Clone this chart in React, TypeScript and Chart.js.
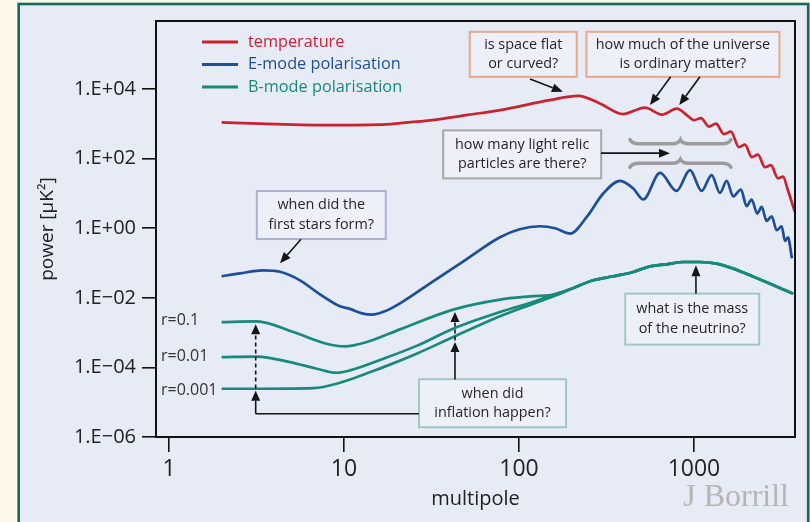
import { useEffect, useRef } from 'react';
import { Chart, registerables } from 'chart.js';

Chart.register(...registerables);

// ---------------- data ----------------
const tempEll = [2, 3.3, 8.65, 16, 21, 32, 50, 78, 150, 218, 290, 393, 525, 656, 800, 924, 1000, 1097, 1218, 1336, 1484, 1627, 1807, 1956, 2144, 2321, 2545, 2754, 3020, 3228, 3444, 3777];
const tempPow = [1100, 1016, 920, 950, 1051, 1280, 1786, 2490, 4820, 6400, 3875, 1910, 2937, 1847, 2750, 1671, 1282, 1463, 834, 1016, 507, 598, 214, 253, 110, 130, 57, 65, 27.5, 30.3, 12.4, 2.9];

const eEll = [2, 2.55, 3.44, 4.31, 5.6, 7.29, 9.49, 10.8, 12.7, 14.45, 17.1, 20.9, 32.3, 49.1, 77.9, 101, 132, 161, 196, 244, 303, 378, 450, 513, 640, 796, 949, 1106, 1262, 1409, 1538, 1678, 1856, 2000, 2136, 2300, 2438, 2602, 2779, 2971, 3172, 3313, 3444, 3630];
const ePow = [0.0416, 0.0507, 0.0618, 0.056, 0.0319, 0.0126, 0.00569, 0.00482, 0.00358, 0.00329, 0.00409, 0.00695, 0.0299, 0.12, 0.551, 0.935, 1.14, 1.0, 0.703, 2.11, 9.97, 23, 13.9, 6.7, 39, 11.8, 46.7, 11.8, 33.5, 10.4, 23, 8.3, 13, 4.3, 6.7, 2.65, 4.1, 1.62, 2.21, 0.875, 1.14, 0.43, 0.55, 0.137];

const bEll_r01 = [2, 3.18, 5.13, 7.96, 10.1, 13.5, 20.9, 42.1, 77.9, 116, 163];
const bPow_r01 = [0.00201, 0.00211, 0.00104, 0.00048, 0.000402, 0.000535, 0.00124, 0.00457, 0.00887, 0.011, 0.0126];

const bEll_r001 = [2, 3.18, 4.91, 6.98, 9.08, 10.8, 16.8, 26, 42.1, 77.9, 120, 164];
const bPow_r001 = [0.000198, 0.000205, 0.000142, 0.0000918, 0.0000703, 0.000082, 0.000178, 0.000416, 0.0013, 0.0039, 0.00757, 0.0132];

const bEll_r0001 = [2, 3.31, 6.68, 9.08, 16.8, 26, 42.1, 77.9, 121, 172];
const bPow_r0001 = [0.0000244, 0.0000244, 0.0000254, 0.000034, 0.000102, 0.000248, 0.000745, 0.00294, 0.0068, 0.0132];

// lensing B-mode (shared by all r beyond the recombination bump)
const lensEll = [196, 266, 346, 450, 561, 698, 869, 1082, 1348, 1678, 2089, 3690];
const lensPow = [0.0176, 0.0319, 0.0416, 0.0552, 0.0805, 0.092, 0.107, 0.107, 0.0964, 0.0692, 0.0444, 0.0132];

const seriesNames = ['temperature', 'E-mode polarisation', 'B-mode polarisation'];
const rLabels = ['r=0.1', 'r=0.01', 'r=0.001'];

const xTickValues = [1, 10, 100, 1000];
const xTickLabels = ['1', '10', '100', '1000'];
const yTickValues = [1e-6, 1e-4, 1e-2, 1, 1e2, 1e4];
const yTickLabels = ['1.E\u221206', '1.E\u221204', '1.E\u221202', '1.E+00', '1.E+02', '1.E+04'];

const X_MIN = 0.843;
const X_MAX = 3780;
const Y_MIN = 1e-6;
const Y_MAX = 9.06e5;

// ---------------- styles ----------------
const RED = '#c8232e';
const BLUE = '#1c4f96';
const GREEN = '#188a79';
const CREAM = '#fdf8ea';
const PANEL = '#e7ebf6';
const TEAL = '#12695f';
const BOXFILL = '#edf0f9';
const SALMON = '#e9a78c';
const GREYB = '#a8a8a8';
const LILAC = '#abb1d5';
const TEALGREY = '#a2c6c8';
const FONT = "'Open Sans', 'Liberation Sans', sans-serif";

// annotation anchors in data coordinates (multipole, power)
const boxes = [
  { lines: ['is space flat', 'or curved?'], at: [105.8, 1.0e5], w: 107, h: 45, stroke: SALMON },
  { lines: ['how much of the universe', 'is ordinary matter?'], at: [865, 1.0e5], w: 193, h: 45, stroke: SALMON },
  { lines: ['how many light relic', 'particles are there?'], at: [104.3, 133], w: 158, h: 48, stroke: GREYB },
  { lines: ['when did the', 'first stars form?'], at: [7.42, 2.4], w: 129, h: 48, stroke: LILAC },
  { lines: ['when did', 'inflation happen?'], at: [70.6, 9.33e-6], w: 147, h: 48, stroke: TEALGREY },
  { lines: ['what is the mass', 'of the neutrino?'], at: [978, 0.00244], w: 134, h: 51, stroke: TEALGREY },
];
const arrows = [
  { from: [115.6, 19400], to: [178.4, 8360] },
  { from: [736, 22600], to: [560.5, 3464] },
  { from: [1082, 22600], to: [824, 3464] },
  { from: [294.2, 144], to: [729.3, 144] },
  { from: [5.68, 0.483], to: [4.31, 0.0984] },
  { from: [1026.6, 0.0132], to: [1026.6, 0.0862] },
];
const braces = [
  { from: 431, to: 1627, mid: 837, at: 270, ends: -1 },
  { from: 431, to: 1627, mid: 837, at: 74.2, ends: 1 },
];

const toXY = (ell: number[], pow: number[]) => ell.map((x, i) => ({ x, y: pow[i] }));

function drawArrow(ctx: CanvasRenderingContext2D, x1: number, y1: number, x2: number, y2: number, dashed = false, head = 11, half = 4.5) {
  const ang = Math.atan2(y2 - y1, x2 - x1);
  const bx = x2 - Math.cos(ang) * head;
  const by = y2 - Math.sin(ang) * head;
  ctx.save();
  ctx.strokeStyle = '#151515';
  ctx.fillStyle = '#151515';
  ctx.lineWidth = 1.6;
  if (dashed) ctx.setLineDash([4, 3]);
  ctx.beginPath();
  ctx.moveTo(x1, y1);
  ctx.lineTo(bx, by);
  ctx.stroke();
  ctx.setLineDash([]);
  ctx.beginPath();
  ctx.moveTo(x2, y2);
  ctx.lineTo(bx + Math.sin(ang) * half, by - Math.cos(ang) * half);
  ctx.lineTo(bx - Math.sin(ang) * half, by + Math.cos(ang) * half);
  ctx.closePath();
  ctx.fill();
  ctx.restore();
}

const backgroundPlugin = {
  id: 'panelBackground',
  beforeDraw(chart: any) {
    const { ctx, width, height } = chart;
    ctx.save();
    ctx.fillStyle = CREAM;
    ctx.fillRect(0, 0, width, height);
    ctx.fillStyle = PANEL;
    ctx.fillRect(18, 3, width, height);
    ctx.strokeStyle = TEAL;
    ctx.lineWidth = 2.6;
    ctx.strokeRect(18.7, 4, 789.5, height + 20);
    ctx.restore();
  },
};

const annotationPlugin = {
  id: 'annotations',
  afterDraw(chart: any) {
    const { ctx, chartArea: ca } = chart;
    const xs = chart.scales.x;
    const ys = chart.scales.y;
    const X = (v: number) => xs.getPixelForValue(v);
    const Y = (v: number) => ys.getPixelForValue(v);
    ctx.save();

    // plot frame
    ctx.strokeStyle = '#111';
    ctx.lineWidth = 2;
    ctx.strokeRect(ca.left, ca.top, ca.right - ca.left, ca.bottom - ca.top);

    // legend
    const legColors = [RED, BLUE, GREEN];
    ctx.font = `16.3px ${FONT}`;
    ctx.textBaseline = 'middle';
    ctx.textAlign = 'left';
    seriesNames.forEach((name, i) => {
      const ly = ca.top + 21 + i * 22.5;
      ctx.strokeStyle = legColors[i];
      ctx.lineWidth = 3;
      ctx.beginPath();
      ctx.moveTo(ca.left + 46, ly);
      ctx.lineTo(ca.left + 82, ly);
      ctx.stroke();
      ctx.fillStyle = legColors[i];
      ctx.fillText(name, ca.left + 92, ly);
    });

    // r labels
    ctx.fillStyle = '#333';
    ctx.font = `16px ${FONT}`;
    const rFirst = [bPow_r01[0], bPow_r001[0], bPow_r0001[0]];
    const rOff = [-2, -1, 2];
    rLabels.forEach((t, i) => ctx.fillText(t, ca.left + 5, Y(rFirst[i]) + rOff[i]));

    // braces
    ctx.strokeStyle = '#9c9c9c';
    ctx.lineWidth = 3.5;
    ctx.lineCap = 'round';
    braces.forEach((b) => {
      const x0 = X(b.from), x1 = X(b.to), xm = X(b.mid), yb = Y(b.at);
      const e = b.ends * 4;
      ctx.beginPath();
      ctx.moveTo(x0, yb + e);
      ctx.quadraticCurveTo(x0 + 2, yb, x0 + 9, yb);
      ctx.lineTo(xm - 8, yb);
      ctx.quadraticCurveTo(xm - 2, yb, xm, yb - 4);
      ctx.quadraticCurveTo(xm + 2, yb, xm + 8, yb);
      ctx.lineTo(x1 - 9, yb);
      ctx.quadraticCurveTo(x1 - 2, yb, x1, yb + e);
      ctx.stroke();
    });
    ctx.lineCap = 'butt';

    // boxes
    boxes.forEach((b) => {
      const cx = X(b.at[0]);
      const cy = Y(b.at[1]);
      ctx.fillStyle = BOXFILL;
      ctx.fillRect(cx - b.w / 2, cy - b.h / 2, b.w, b.h);
      ctx.strokeStyle = b.stroke;
      ctx.lineWidth = 2;
      ctx.strokeRect(cx - b.w / 2, cy - b.h / 2, b.w, b.h);
      ctx.fillStyle = '#262626';
      ctx.font = `14.4px ${FONT}`;
      ctx.textAlign = 'center';
      ctx.textBaseline = 'middle';
      b.lines.forEach((ln, i) => ctx.fillText(ln, cx, cy + (i - (b.lines.length - 1) / 2) * 19.5));
    });

    // arrows
    arrows.forEach((a) => drawArrow(ctx, X(a.from[0]), Y(a.from[1]), X(a.to[0]), Y(a.to[1])));

    // inflation arrows
    const xa = X(3.13);
    const xb = X(43.1);
    const yLow = Y(4.65e-6);
    ctx.strokeStyle = '#151515';
    ctx.lineWidth = 1.6;
    ctx.beginPath();
    ctx.moveTo(X(26.8), yLow);
    ctx.lineTo(xa, yLow);
    ctx.stroke();
    drawArrow(ctx, xa, yLow, xa, Y(2.14e-5), false, 10, 4.5);
    drawArrow(ctx, xa, Y(2.49e-5), xa, Y(0.00173), true, 10, 4.5);
    drawArrow(ctx, xb, Y(4.52e-5), xb, Y(0.000535), false, 10, 4.5);
    drawArrow(ctx, xb, Y(0.000598), xb, Y(0.0039), true, 10, 4.5);

    // signature
    ctx.font = "32px 'Liberation Serif', 'DejaVu Serif', serif";
    ctx.fillStyle = '#b5b5b5';
    ctx.textAlign = 'right';
    ctx.textBaseline = 'alphabetic';
    ctx.fillText('J Borrill', 789, 506);

    ctx.restore();
  },
};

const lineStyle = (color: string) => ({
  borderColor: color,
  backgroundColor: color,
  borderWidth: 2.7,
  pointRadius: 0,
  fill: false,
  cubicInterpolationMode: 'monotone' as const,
  showLine: true,
});

export default function App() {
  const ref = useRef<HTMLCanvasElement>(null);

  useEffect(() => {
    if (!ref.current) return;
    Chart.defaults.font.family = FONT;
    const chart = new Chart(ref.current, {
      type: 'line',
      data: {
        datasets: [
          { label: rLabels[2], data: toXY([...bEll_r0001, ...lensEll], [...bPow_r0001, ...lensPow]), ...lineStyle(GREEN) },
          { label: rLabels[1], data: toXY([...bEll_r001, ...lensEll], [...bPow_r001, ...lensPow]), ...lineStyle(GREEN) },
          { label: rLabels[0], data: toXY([...bEll_r01, ...lensEll], [...bPow_r01, ...lensPow]), ...lineStyle(GREEN) },
          { label: seriesNames[1], data: toXY(eEll, ePow), ...lineStyle(BLUE) },
          { label: seriesNames[0], data: toXY(tempEll, tempPow), ...lineStyle(RED) },
        ],
      },
      options: {
        responsive: false,
        devicePixelRatio: 1,
        animation: false,
        parsing: true,
        layout: { padding: { left: 0, top: 21, right: 15, bottom: 0 } },
        plugins: { legend: { display: false }, tooltip: { enabled: false } },
        scales: {
          x: {
            type: 'logarithmic',
            min: X_MIN,
            max: X_MAX,
            afterBuildTicks: (s: any) => {
              s.ticks = xTickValues.map((v) => ({ value: v }));
            },
            afterFit: (s: any) => {
              s.height = 85;
            },
            ticks: {
              autoSkip: false,
              maxRotation: 0,
              padding: 4,
              color: '#222',
              font: { size: 23, family: FONT },
              callback: (v: any) => {
                const i = xTickValues.findIndex((t) => Math.abs(t - v) / t < 1e-6);
                return i >= 0 ? xTickLabels[i] : '';
              },
            },
            grid: { drawOnChartArea: false, drawTicks: true, tickLength: 15, color: '#111', lineWidth: 1.6 },
            border: { display: false },
            title: {
              display: true,
              text: 'multipole',
              color: '#222',
              font: { size: 20, family: FONT },
              padding: { top: 0, bottom: 11 },
            },
          },
          y: {
            type: 'logarithmic',
            min: Y_MIN,
            max: Y_MAX,
            afterBuildTicks: (s: any) => {
              s.ticks = yTickValues.map((v) => ({ value: v }));
            },
            afterFit: (s: any) => {
              s.width = 156;
            },
            ticks: {
              autoSkip: false,
              padding: 6,
              color: '#222',
              font: { size: 20, family: FONT },
              callback: (v: any) => {
                const i = yTickValues.findIndex((t) => Math.abs(t - v) / t < 1e-6);
                return i >= 0 ? yTickLabels[i] : '';
              },
            },
            grid: { drawOnChartArea: false, drawTicks: true, tickLength: 14, color: '#111', lineWidth: 1.6 },
            border: { display: false },
            title: {
              display: true,
              text: 'power [\u03bcK\u00b2]',
              color: '#222',
              font: { size: 19, family: FONT },
              padding: { top: 36, bottom: 0 },
            },
          },
        },
      },
      plugins: [backgroundPlugin, annotationPlugin],
    } as any);
    return () => chart.destroy();
  }, []);

  return (
    <div style={{ position: 'fixed', left: 0, top: 0, width: 810, height: 522 }}>
      <canvas ref={ref} width={810} height={522} style={{ display: 'block', width: 810, height: 522 }} />
    </div>
  );
}
